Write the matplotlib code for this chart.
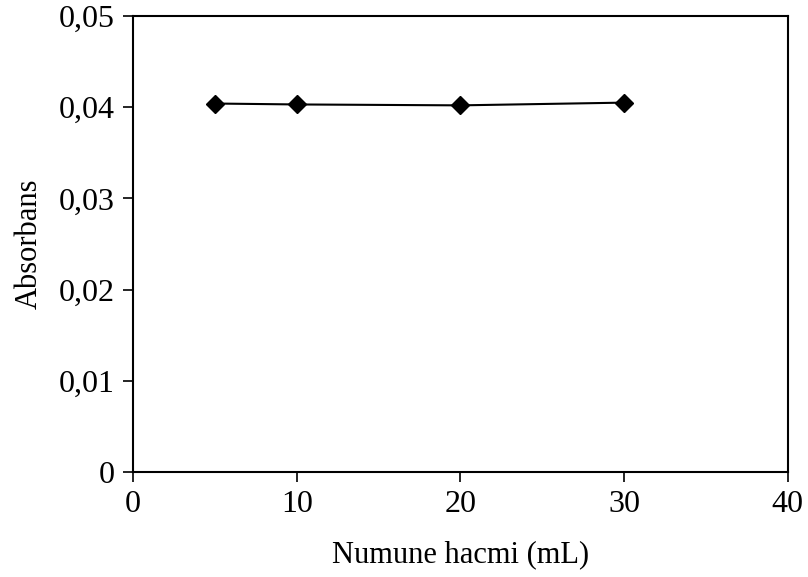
import numpy as np
import matplotlib.pyplot as plt
from matplotlib.ticker import FuncFormatter

plt.rcParams['font.family'] = ['Liberation Serif', 'DejaVu Serif']

hacim = [5, 10, 20, 30]
absorbans = [0.0404, 0.0403, 0.0402, 0.0405]

x_ticks = [0, 10, 20, 30, 40]
y_ticks = [0, 0.01, 0.02, 0.03, 0.04, 0.05]


def virgul(v, pos):
    if v == 0:
        return '0'
    return ('%.2f' % v).replace('.', ',')


fig = plt.figure(figsize=(8.08, 5.77), dpi=100)
ax = fig.add_axes([0.1646, 0.182, 0.8104, 0.7903])

ax.plot(hacim, absorbans, color='black', linewidth=1.5, marker='D', markersize=9)

ax.set_xlim(0, 40)
ax.set_ylim(0, 0.05)
ax.set_xticks(x_ticks)
ax.set_yticks(y_ticks)
ax.yaxis.set_major_formatter(FuncFormatter(virgul))
ax.tick_params(direction='out', length=7, width=1.2, labelsize=23, pad=6, colors='black')

for s in ax.spines.values():
    s.set_linewidth(1.5)
    s.set_color('black')

ax.set_xlabel('Numune hacmi (mL)', fontsize=22, labelpad=15)
ax.set_ylabel('Absorbans', fontsize=22, labelpad=11)

fig.savefig('out.png', dpi=100)
